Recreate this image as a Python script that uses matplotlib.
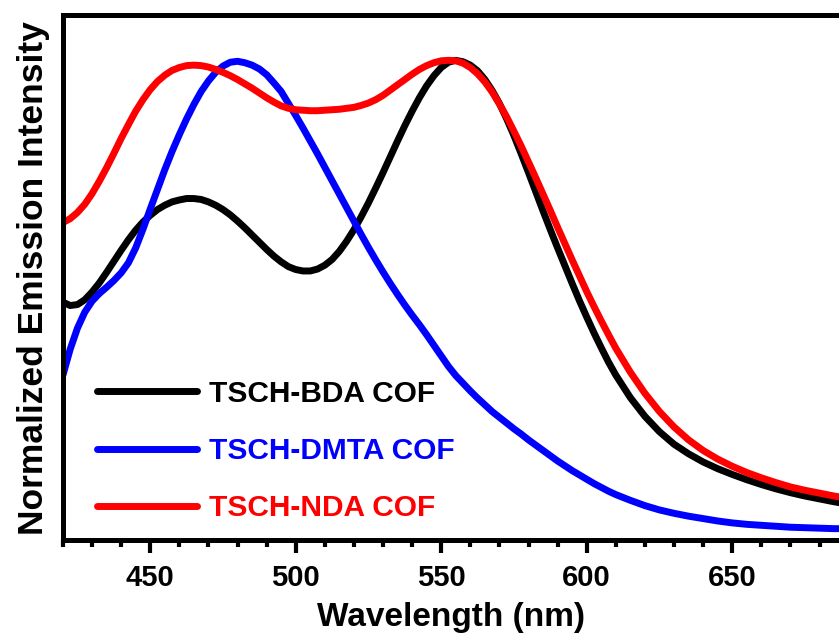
import matplotlib
matplotlib.use("Agg")
import matplotlib.pyplot as plt
from matplotlib.ticker import MultipleLocator

plt.rcParams['font.family'] = ['Liberation Sans', 'DejaVu Sans']
plt.rcParams['font.weight'] = 'bold'

# wavelength grid (nm) and normalized intensities
wavelength = [420, 422.5, 425, 427.5, 430, 432.5, 435, 437.5, 440, 442.5,
              445, 447.5, 450, 452.5, 455, 457.5, 460, 462.5, 465, 467.5,
              470, 472.5, 475, 477.5, 480, 482.5, 485, 487.5, 490, 492.5,
              495, 497.5, 500, 502.5, 505, 507.5, 510, 512.5, 515, 517.5,
              520, 522.5, 525, 527.5, 530, 532.5, 535, 537.5, 540, 542.5,
              545, 547.5, 550, 552.5, 555, 557.5, 560, 562.5, 565, 567.5,
              570, 572.5, 575, 577.5, 580, 582.5, 585, 587.5, 590, 592.5,
              595, 597.5, 600, 602.5, 605, 607.5, 610,
              615, 620, 625, 630, 635, 640, 645, 650, 655, 660, 665, 670, 675, 680, 685, 687]

bda = [0.496, 0.489, 0.491, 0.501, 0.517, 0.536, 0.558, 0.581, 0.604, 0.626,
       0.646, 0.663, 0.677, 0.689, 0.698, 0.705, 0.709, 0.712, 0.712, 0.710,
       0.705, 0.698, 0.689, 0.678, 0.665, 0.651, 0.636, 0.621, 0.606, 0.592,
       0.580, 0.570, 0.564, 0.561, 0.561, 0.565, 0.573, 0.585, 0.602, 0.623,
       0.647, 0.674, 0.703, 0.734, 0.766, 0.799, 0.832, 0.864, 0.894, 0.922,
       0.947, 0.968, 0.985, 0.996, 1.000, 0.997, 0.990, 0.978, 0.960, 0.937,
       0.910, 0.878, 0.843, 0.805, 0.766, 0.726, 0.686, 0.647, 0.609, 0.572,
       0.535, 0.499, 0.465, 0.432, 0.401, 0.371, 0.344,
       0.297, 0.258, 0.226, 0.200, 0.180, 0.163, 0.149, 0.137, 0.126, 0.116,
       0.107, 0.099, 0.092, 0.086, 0.080, 0.078]

dmta = [0.344, 0.398, 0.442, 0.475, 0.498, 0.514, 0.527, 0.541, 0.557, 0.578,
        0.609, 0.648, 0.690, 0.731, 0.772, 0.810, 0.845, 0.878, 0.908, 0.935,
        0.957, 0.975, 0.988, 0.996, 0.998, 0.995, 0.990, 0.982, 0.970, 0.953,
        0.935, 0.910, 0.885, 0.859, 0.832, 0.805, 0.777, 0.749, 0.721, 0.693,
        0.665, 0.637, 0.610, 0.584, 0.559, 0.535, 0.512, 0.490, 0.469, 0.449,
        0.428, 0.406, 0.384, 0.362, 0.343, 0.327, 0.311, 0.296, 0.282, 0.268,
        0.256, 0.244, 0.232, 0.221, 0.209, 0.198, 0.187, 0.176, 0.165, 0.155,
        0.145, 0.136, 0.127, 0.118, 0.110, 0.102, 0.095,
        0.083, 0.072, 0.063, 0.056, 0.050, 0.045, 0.040, 0.036, 0.033, 0.031,
        0.029, 0.027, 0.026, 0.025, 0.024, 0.024]

nda = [0.662, 0.670, 0.683, 0.700, 0.722, 0.748, 0.776, 0.806, 0.837, 0.866,
       0.894, 0.918, 0.939, 0.956, 0.969, 0.979, 0.985, 0.989, 0.990, 0.989,
       0.986, 0.981, 0.975, 0.968, 0.960, 0.951, 0.942, 0.932, 0.922, 0.913,
       0.905, 0.900, 0.897, 0.896, 0.895, 0.895, 0.896, 0.897, 0.898, 0.900,
       0.902, 0.906, 0.911, 0.918, 0.927, 0.938, 0.949, 0.960, 0.971, 0.981,
       0.989, 0.995, 0.999, 1.000, 0.999, 0.994, 0.985, 0.972, 0.955, 0.934,
       0.909, 0.882, 0.852, 0.821, 0.788, 0.755, 0.721, 0.687, 0.652, 0.618,
       0.584, 0.551, 0.518, 0.487, 0.457, 0.428, 0.400,
       0.350, 0.306, 0.268, 0.236, 0.209, 0.187, 0.169, 0.154, 0.141, 0.130,
       0.120, 0.111, 0.104, 0.098, 0.092, 0.090]

labels = ["TSCH-BDA COF", "TSCH-DMTA COF", "TSCH-NDA COF"]
colors = ["#000000", "#0000ff", "#ff0000"]

fig = plt.figure(figsize=(8.39, 6.34), dpi=100)
ax = fig.add_axes([0.075, 0.148, 0.925, 0.828])

for y, lab, c in zip([bda, dmta, nda], labels, colors):
    ax.plot(wavelength, y, color=c, lw=5, label=lab,
            solid_capstyle='round', solid_joinstyle='round')

ax.set_xlim(420, 686.7)
ax.set_ylim(0, 1.094)

for side in ['left', 'bottom', 'top']:
    ax.spines[side].set_linewidth(3.6)
ax.spines['right'].set_visible(False)

ax.xaxis.set_major_locator(MultipleLocator(50))
ax.xaxis.set_minor_locator(MultipleLocator(10))
ax.tick_params(axis='x', which='major', direction='out', length=9, width=3,
               labelsize=21, pad=8)
ax.tick_params(axis='x', which='minor', direction='out', length=5, width=3)
ax.set_yticks([])

ax.set_xlabel("Wavelength (nm)", fontsize=24, fontweight='bold', labelpad=7)
ax.set_ylabel("Normalized Emission Intensity", fontsize=25.5, fontweight='bold', labelpad=9)

leg = ax.legend(loc='lower left', bbox_to_anchor=(0.044, 0.034), frameon=False,
                prop={'size': 21.5, 'weight': 'bold'}, handlelength=3.35,
                handletextpad=0.4, labelspacing=0.98, labelcolor='linecolor',
                borderaxespad=0, borderpad=0)
for line in leg.get_lines():
    line.set_linewidth(5)

fig.savefig("out.png", dpi=100)
